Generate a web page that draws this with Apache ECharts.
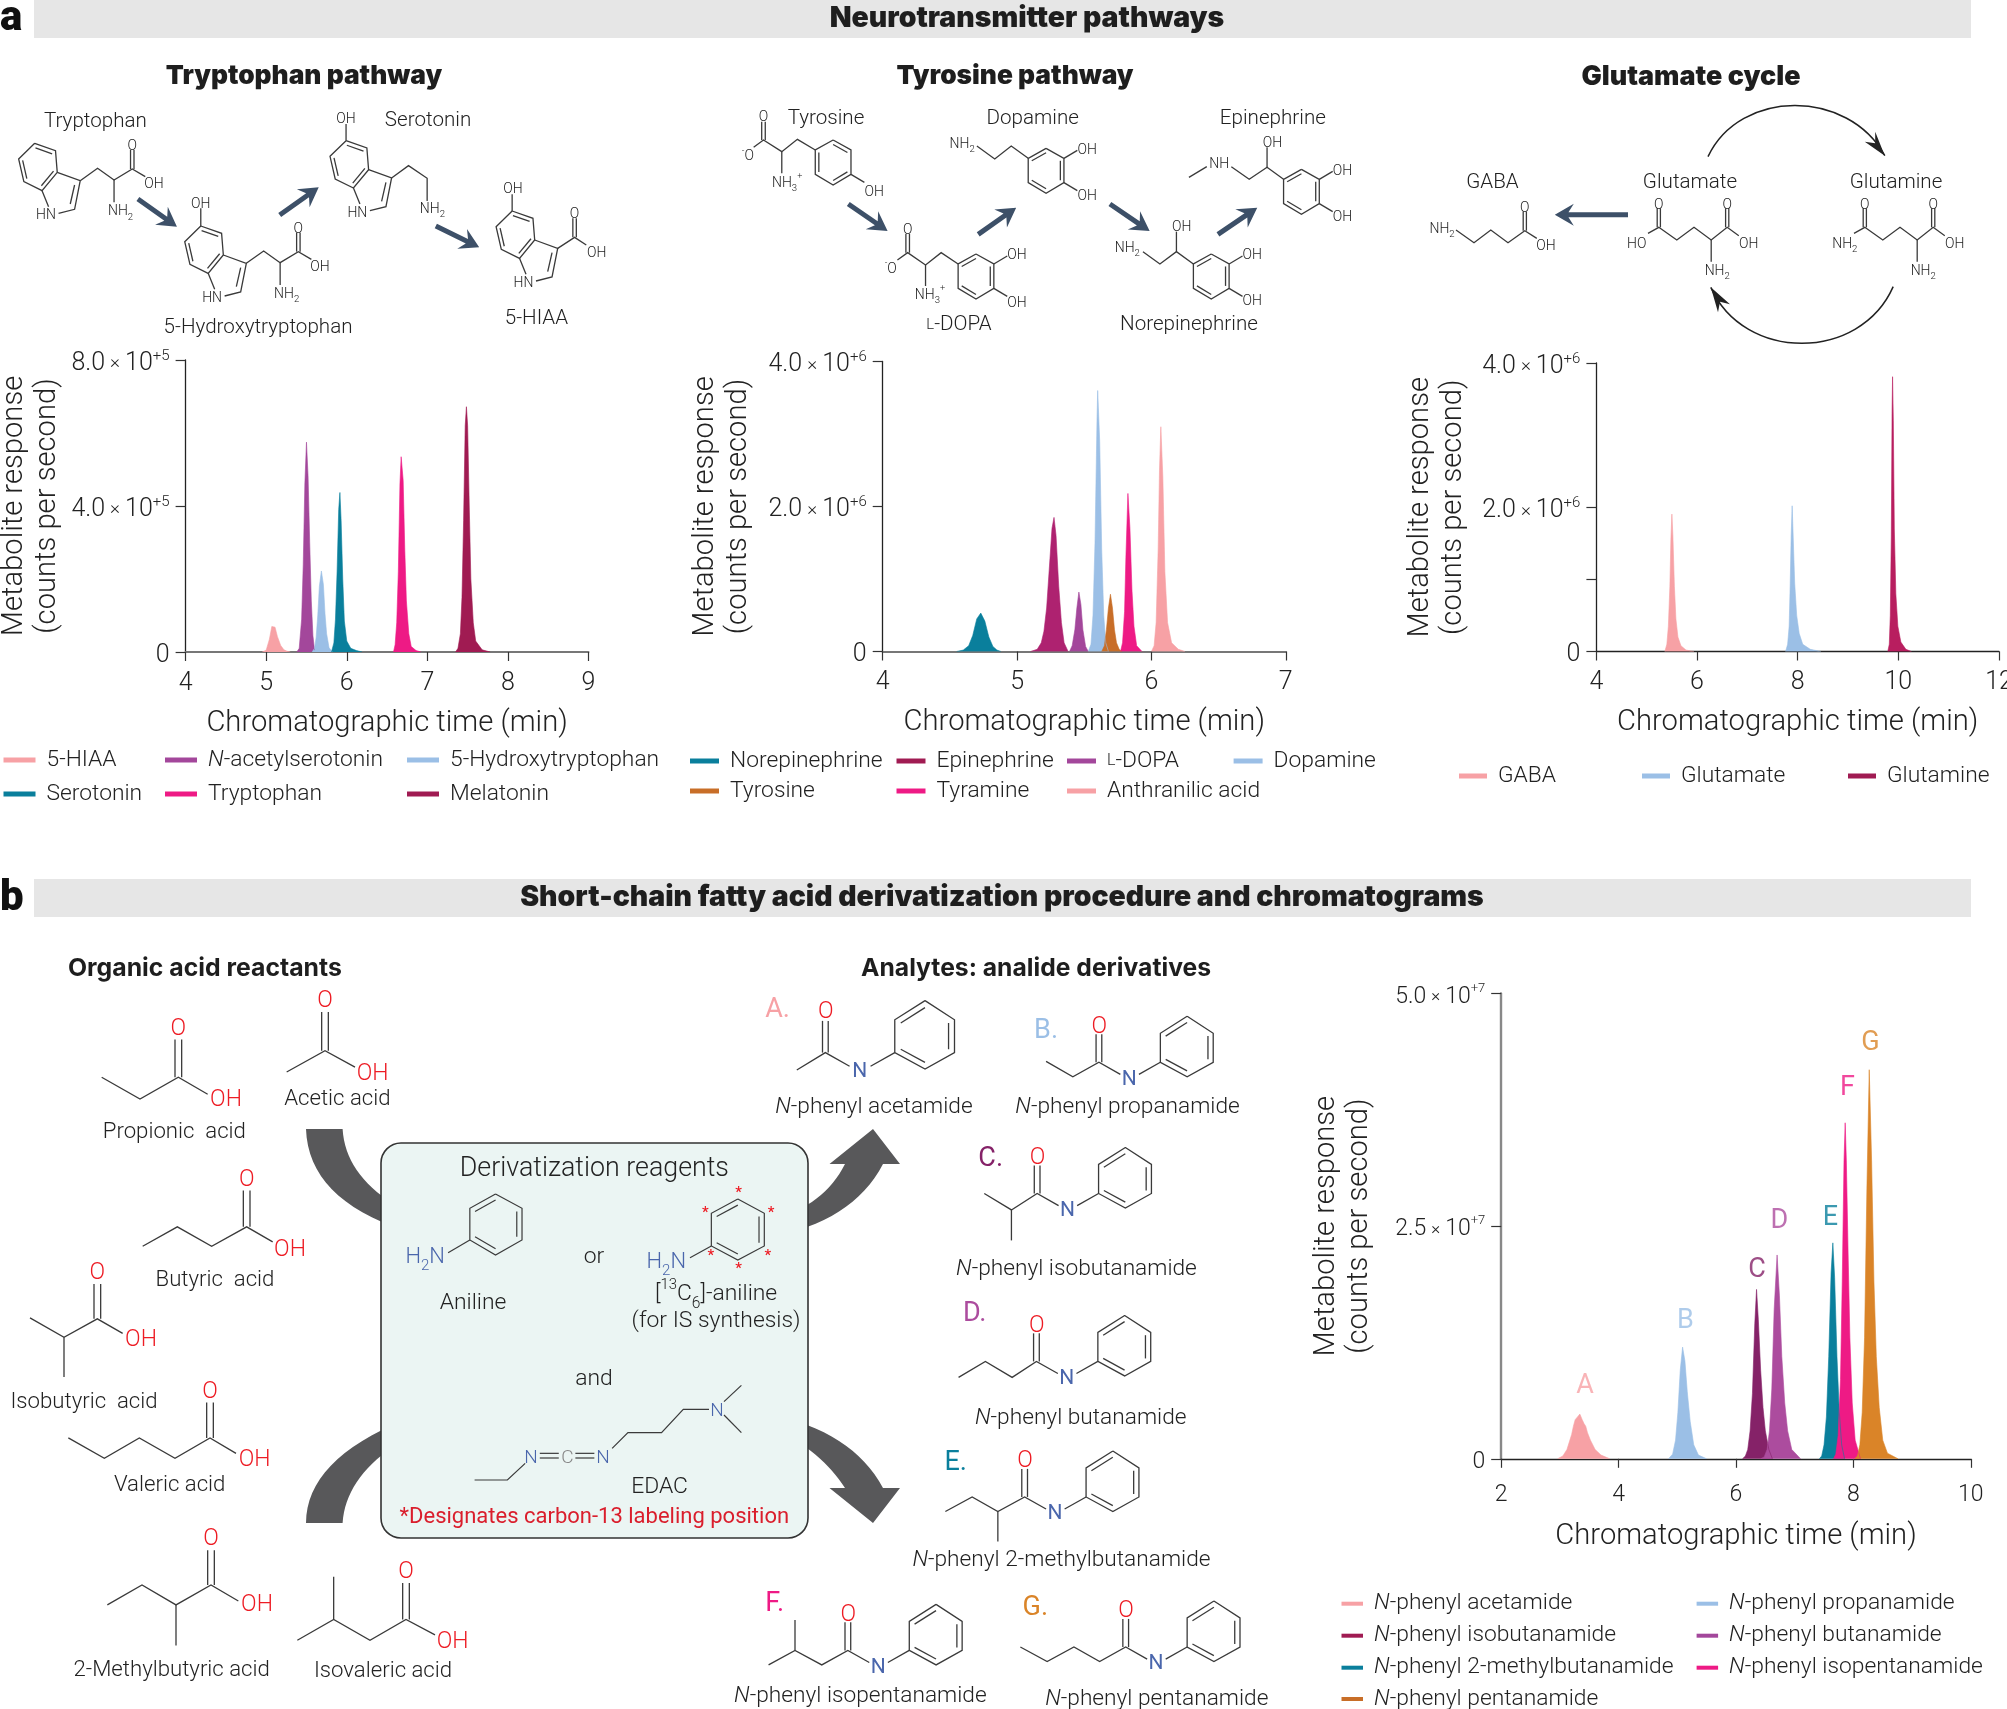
<!DOCTYPE html>
<html><head><meta charset="utf-8">
<style>html,body{margin:0;padding:0;background:#fff}#c{width:2007px;height:1709px}</style>
<script src="https://cdn.jsdelivr.net/npm/echarts@6/dist/echarts.min.js"></script>
</head><body><div id="c"></div>
<script>
// ---------- chart data (times in min; responses in axis units) ----------
const hiaaT=[4.95,5.00,5.04,5.07,5.09,5.11,5.14,5.18,5.22,5.26,5.30];
const hiaaY=[0,0.05,0.35,0.70,0.74,0.68,0.42,0.18,0.06,0.02,0];
const nacetT=[5.38,5.41,5.44,5.46,5.48,5.50,5.52,5.54,5.56,5.58,5.60];
const nacetY=[0,0.1,0.9,2.4,4.6,5.75,4.8,3.0,1.4,0.45,0.05];
const htpT=[5.57,5.60,5.62,5.64,5.66,5.685,5.71,5.73,5.75,5.78,5.82];
const htpY=[0,0.1,0.4,1.0,1.8,2.22,1.85,1.05,0.5,0.12,0];
const seroT=[5.81,5.84,5.86,5.88,5.90,5.915,5.93,5.95,5.97,6.00,6.05,6.12,6.19];
const seroY=[0,0.25,0.9,2.2,3.9,4.37,3.6,2.0,0.85,0.3,0.1,0.04,0];
const trpT=[6.58,6.60,6.62,6.64,6.66,6.675,6.70,6.72,6.74,6.77,6.80,6.86,6.92];
const trpY=[0,0.2,0.8,2.2,4.6,5.35,4.7,2.8,1.4,0.5,0.15,0.04,0];
const melT=[7.35,7.38,7.41,7.43,7.45,7.47,7.485,7.50,7.52,7.54,7.57,7.60,7.68,7.78];
const melY=[0,0.1,0.5,1.5,3.6,6.2,6.72,6.2,4.0,2.0,0.8,0.3,0.06,0];

const norT=[4.55,4.60,4.64,4.67,4.70,4.73,4.76,4.79,4.82,4.85,4.88];
const norY=[0,0.02,0.08,0.22,0.45,0.53,0.42,0.2,0.07,0.02,0];
const epiT=[5.10,5.15,5.18,5.20,5.22,5.24,5.26,5.275,5.29,5.31,5.33,5.35,5.38];
const epiY=[0,0.03,0.12,0.28,0.6,1.15,1.7,1.85,1.6,0.9,0.4,0.12,0];
const dopaT=[5.39,5.41,5.43,5.445,5.46,5.475,5.49,5.51,5.53];
const dopaY=[0,0.08,0.3,0.6,0.82,0.65,0.3,0.07,0];
const dopT=[5.53,5.55,5.565,5.58,5.595,5.60,5.615,5.63,5.645,5.66,5.68];
const dopY=[0,0.1,0.5,1.5,3.2,3.6,2.9,1.4,0.5,0.12,0];
const tyrT=[5.63,5.65,5.665,5.68,5.695,5.71,5.725,5.74,5.76,5.78];
const tyrY=[0,0.08,0.3,0.6,0.79,0.6,0.3,0.12,0.03,0];
const tymT=[5.77,5.785,5.80,5.81,5.825,5.84,5.855,5.87,5.89,5.93];
const tymY=[0,0.12,0.55,1.3,2.18,1.7,0.85,0.35,0.08,0];
const antT=[6.00,6.02,6.035,6.05,6.06,6.07,6.085,6.10,6.12,6.15,6.20,6.25];
const antY=[0,0.08,0.4,1.4,2.5,3.1,2.4,1.1,0.4,0.12,0.03,0];

const gabaT=[5.36,5.40,5.43,5.46,5.48,5.50,5.52,5.55,5.58,5.62,5.68,5.78,5.94];
const gabaY=[0,0.1,0.35,0.9,1.55,1.905,1.6,0.9,0.45,0.2,0.08,0.02,0];
const gluT=[7.76,7.80,7.83,7.85,7.87,7.89,7.91,7.94,7.98,8.03,8.10,8.25,8.46];
const gluY=[0,0.1,0.35,0.9,1.6,2.02,1.6,0.95,0.5,0.25,0.1,0.03,0];
const glnT=[9.79,9.82,9.84,9.86,9.875,9.885,9.90,9.92,9.95,9.99,10.05,10.15,10.26];
const glnY=[0,0.1,0.5,1.6,3.3,3.81,3.2,1.7,0.8,0.35,0.13,0.03,0];

const aT=[2.96,3.05,3.12,3.16,3.20,3.23,3.26,3.28,3.30,3.32,3.34,3.36,3.38,3.41,3.44,3.47,3.52,3.60,3.70,3.85];
const aY=[0,0.03,0.1,0.18,0.26,0.35,0.42,0.40,0.45,0.43,0.48,0.45,0.42,0.38,0.35,0.28,0.2,0.1,0.04,0];
const bT=[4.85,4.92,4.97,5.01,5.05,5.09,5.13,5.17,5.22,5.28,5.36,5.50];
const bY=[0,0.05,0.2,0.5,0.95,1.2,1.05,0.72,0.4,0.15,0.04,0];
const cT=[6.11,6.16,6.20,6.24,6.28,6.32,6.35,6.38,6.42,6.46,6.50,6.56,6.62];
const cY=[0,0.03,0.1,0.3,0.7,1.45,1.82,1.5,0.95,0.55,0.3,0.1,0];
const dT=[6.42,6.48,6.53,6.57,6.61,6.65,6.70,6.74,6.78,6.83,6.88,6.95,7.10];
const dY=[0,0.02,0.1,0.3,0.75,1.6,2.19,1.75,1.1,0.6,0.3,0.1,0];
const eT=[7.42,7.46,7.50,7.54,7.58,7.62,7.65,7.68,7.72,7.76,7.80,7.85];
const eY=[0,0.03,0.15,0.45,1.1,2.0,2.32,1.95,1.1,0.5,0.15,0];
const fT=[7.66,7.70,7.74,7.78,7.81,7.84,7.86,7.88,7.91,7.94,7.98,8.03,8.12];
const fY=[0,0.05,0.25,0.85,1.9,3.2,3.61,3.2,2.2,1.3,0.6,0.2,0];
const gT=[8.02,8.07,8.11,8.15,8.19,8.23,8.27,8.31,8.35,8.39,8.44,8.50,8.58,8.76];
const gY=[0,0.03,0.15,0.5,1.3,2.9,4.18,3.2,1.9,1.1,0.55,0.2,0.06,0];

const peakLabels=[['A',3.43,0.78],['B',5.14,1.48],['C',6.36,2.03],['D',6.74,2.55],['E',7.61,2.58],['F',7.90,3.98],['G',8.29,4.46]];

// ---------- colours ----------
const PINK='#F7A1A5',PURP='#A3479B',BLUE='#9BBFE6',TEAL='#0A7F9C',HOT='#EE1A85',MAR='#A01B52',ORG='#C86E28';
const SLATE='#3D5068',GREY='#58585A',RED='#ED1C24',NBLUE='#4A66AC',BOND='#3A3A3A',INK='#222222';
const FF='Roboto',HF='Inter';

function pts(t,y){return t.map((v,i)=>[v,y[i]]);}
function peak(name,t,y,color,gi,extra){
  return Object.assign({name,type:'line',xAxisIndex:gi,yAxisIndex:gi,data:pts(t,y),symbol:'none',
    showSymbol:false,silent:true,color:color,lineStyle:{width:0.6,color:color},areaStyle:{color:color,opacity:1},animation:false},extra||{});
}
const series=[
 peak('5-HIAA',hiaaT,hiaaY,PINK,0),peak('N-acetylserotonin',nacetT,nacetY,PURP,0),peak('5-Hydroxytryptophan',htpT,htpY,BLUE,0),
 peak('Serotonin',seroT,seroY,TEAL,0),peak('Tryptophan',trpT,trpY,HOT,0),peak('Melatonin',melT,melY,MAR,0),
 peak('Norepinephrine',norT,norY,TEAL,1),peak('Epinephrine',epiT,epiY,'#AE2270',1),peak('L-DOPA',dopaT,dopaY,PURP,1),
 peak('Dopamine',dopT,dopY,BLUE,1),peak('Tyrosine',tyrT,tyrY,ORG,1),peak('Tyramine',tymT,tymY,HOT,1),peak('Anthranilic acid',antT,antY,PINK,1),
 peak('GABA',gabaT,gabaY,PINK,2),peak('Glutamate',gluT,gluY,BLUE,2),peak('Glutamine',glnT,glnY,'#B81E5F',2),
 peak('N-phenyl acetamide',aT,aY,PINK,3),peak('N-phenyl propanamide',bT,bY,BLUE,3),peak('N-phenyl isobutanamide',cT,cY,'#852268',3),
 peak('N-phenyl butanamide',dT,dY,'#AC4C9E',3),peak('N-phenyl 2-methylbutanamide',eT,eY,TEAL,3),peak('N-phenyl isopentanamide',fT,fY,HOT,3),
 peak('N-phenyl pentanamide',gT,gY,'#DA8428',3)
];
const letterCol=[PINK,BLUE,'#852268','#AC4C9E',TEAL,HOT,'#DA8428'];
series.push({type:'scatter',xAxisIndex:3,yAxisIndex:3,silent:true,symbolSize:1,itemStyle:{color:'rgba(0,0,0,0)'},animation:false,
  data:peakLabels.map((p,i)=>({value:[p[1],p[2]],label:{show:true,position:'inside',formatter:p[0],color:letterCol[i],fontFamily:FF,fontWeight:400,fontSize:27}}))});

// ---------- axes ----------
function tickFmt(exp){return v=>v===0?'{n|0}':'{n|'+v.toFixed(1)+'}{x|×}{n|10}{s|+'+exp+'}';}
function axisRich(fs){return {n:{fontFamily:FF,fontWeight:300,fontSize:fs,lineHeight:30,color:INK},x:{fontFamily:FF,fontWeight:300,fontSize:fs-6,lineHeight:30,color:INK,padding:[0,5,0,5]},s:{fontFamily:FF,fontWeight:300,fontSize:fs-10,verticalAlign:'top',lineHeight:12,color:INK}};}
const grids=[{left:185.6,top:360,width:402.9,height:292},{left:882.7,top:361.5,width:403.1,height:290},{left:1596.4,top:363,width:402.6,height:288.5},{left:1501.2,top:993.4,width:469.6,height:465.4}].map(g=>Object.assign(g,{outerBoundsMode:'none',containLabel:false}));
const xCfg=[{min:4,max:9,interval:1,c:'#777',w:2,fs:25,gap:57,m:19},{min:4,max:7,interval:1,c:'#777',w:2,fs:25,gap:57,m:19},{min:4,max:12,interval:2,c:'#222',w:1.3,fs:25,gap:57,m:19},{min:2,max:10,interval:2,c:'#222',w:1.3,fs:23,gap:63,m:25}];
const yCfg=[{max:8,interval:4,exp:5,c:'#222',w:1.3,gap:156,fs:25},{max:4,interval:2,exp:6,c:'#222',w:1.3,gap:163,fs:25},{max:4,interval:2,exp:6,c:'#222',w:1.3,gap:161,fs:25,ticks:[0,1,2,4]},{max:5,interval:2.5,exp:7,c:'#888',w:2.4,gap:160,fs:23}];
const xAxis=xCfg.map((a,i)=>({type:'value',gridIndex:i,min:a.min,max:a.max,interval:a.interval,name:'Chromatographic time (min)',nameLocation:'middle',nameGap:a.gap,
  nameTextStyle:{fontFamily:FF,fontWeight:300,fontSize:29.2,color:INK},splitLine:{show:false},
  axisLine:{show:true,onZero:false,lineStyle:{color:a.c,width:a.w}},axisTick:{show:true,length:9,lineStyle:{color:'#333',width:1.2}},
  axisLabel:{show:true,margin:a.m,fontFamily:FF,fontWeight:300,fontSize:a.fs,color:INK,showMinLabel:true,showMaxLabel:true}}));
const yAxis=yCfg.map((a,i)=>({type:'value',gridIndex:i,min:0,max:a.max,interval:a.interval,name:'Metabolite response\n(counts per second)',nameLocation:'middle',nameGap:a.gap-35,nameRotate:90,
  nameTextStyle:{fontFamily:FF,fontWeight:300,fontSize:29.2,lineHeight:33,color:INK},splitLine:{show:false},
  axisLine:{show:true,onZero:false,lineStyle:{color:a.c,width:a.w}},
  axisTick:Object.assign({show:true,length:10,lineStyle:{color:'#333',width:1.2}},a.ticks?{customValues:a.ticks}:{}),
  axisLabel:{show:true,margin:16,padding:[7,0,0,0],formatter:tickFmt(a.exp),rich:axisRich(a.fs),hideOverlap:false,showMinLabel:true,showMaxLabel:true}}));

// ---------- legends (one per item, so columns line up as drawn) ----------
const LFS=22.8;
const legRich={i:{fontStyle:'italic',fontFamily:FF,fontWeight:300,fontSize:LFS,color:INK},r:{fontFamily:FF,fontWeight:300,fontSize:LFS,color:INK},s:{fontFamily:FF,fontWeight:300,fontSize:16,color:INK}};
function lg(name,x,y,sw,sh,color){
  return {show:true,data:[{name:name,itemStyle:{color:color}}],left:x,top:y-11,padding:0,itemWidth:sw,itemHeight:sh,icon:'rect',selectedMode:false,
    formatter:n=>{if(n.indexOf('N-')===0)return '{i|N}{r|'+n.slice(1)+'}';if(n==='L-DOPA')return '{s|L}{r|-DOPA}';return '{r|'+n+'}';},
    textStyle:{fontFamily:FF,fontWeight:300,fontSize:LFS,color:INK,lineHeight:26,padding:[0,0,0,6],rich:legRich}};
}
const legend=[
 lg('5-HIAA',3.5,758,32,5,PINK),lg('N-acetylserotonin',165,758,32,5,PURP),lg('5-Hydroxytryptophan',407,758,32,5,BLUE),
 lg('Serotonin',3.5,792,32,5,TEAL),lg('Tryptophan',165,792,32,5,HOT),lg('Melatonin',407,792,32,5,MAR),
 lg('Norepinephrine',690,759,29,5,TEAL),lg('Epinephrine',896.5,759,29,5,MAR),lg('L-DOPA',1067,759,29,5,PURP),lg('Dopamine',1233.6,759,29,5,BLUE),
 lg('Tyrosine',690,789,29,5,ORG),lg('Tyramine',896.5,789,29,5,HOT),lg('Anthranilic acid',1067,789,29,5,PINK),
 lg('GABA',1459,774,28,5,PINK),lg('Glutamate',1642,774,28,5,BLUE),lg('Glutamine',1848,774,28,5,MAR),
 lg('N-phenyl acetamide',1341.5,1601.7,21.5,4,PINK),lg('N-phenyl propanamide',1696.6,1601.7,21.5,4,BLUE),
 lg('N-phenyl isobutanamide',1341.5,1633.7,21.5,4,MAR),lg('N-phenyl butanamide',1696.6,1633.7,21.5,4,PURP),
 lg('N-phenyl 2-methylbutanamide',1341.5,1665.7,21.5,4,TEAL),lg('N-phenyl isopentanamide',1696.6,1665.7,21.5,4,HOT),
 lg('N-phenyl pentanamide',1341.5,1697,21.5,4,ORG)
];

// ---------- drawing helpers for the structure schemes ----------
const GR=[];
const M=(cx,cy,fx,fy)=>p=>[cx+p[0]/fx,cy+p[1]/fy];
const ID=p=>p;
function rect(x,y,w,h,fill,o){GR.push(Object.assign({type:'rect',silent:true,shape:{x,y,width:w,height:h,r:(o&&o.r)||0},style:{fill:fill,stroke:(o&&o.stroke)||null,lineWidth:(o&&o.lw)||0}},{}));}
function L(m,p,o){o=o||{};GR.push({type:'polyline',silent:true,shape:{points:p.map(m)},style:{stroke:o.c||BOND,lineWidth:o.w||1.3,fill:null}});}
function PG(pp,fill){GR.push({type:'polygon',silent:true,shape:{points:pp},style:{fill:fill,stroke:null}});}
function T(m,p,text,o){o=o||{};const q=m(p);const fs=o.fs||14;
  const base={fontFamily:o.ff||FF,fontWeight:o.fw||300,fontSize:fs,fill:o.c||INK,color:o.c||INK};
  const rich={i:Object.assign({},base,{fontStyle:'italic',verticalAlign:'middle'}),
    n:Object.assign({},base,{lineHeight:fs*1.5,verticalAlign:'middle'}),
    b:Object.assign({},base,{fontSize:fs*0.68,lineHeight:fs*0.68,verticalAlign:'bottom'}),
    t:Object.assign({},base,{fontSize:fs*0.65,lineHeight:fs*0.65,verticalAlign:'top'}),
    k:Object.assign({},base,{fontSize:fs*0.72,verticalAlign:'middle'})};
  GR.push({type:'text',silent:true,x:q[0],y:q[1]+2.5,style:{text:text,rich:rich,fontFamily:o.ff||FF,fontWeight:o.fw||300,fontSize:fs,fill:o.c||INK,
    align:o.al||'center',textAlign:o.al||'center',verticalAlign:'middle',textVerticalAlign:'middle'}});}
function ring(m,p,edges,o){const q=p.map(m);const cx=q.reduce((s,a)=>s+a[0],0)/q.length,cy=q.reduce((s,a)=>s+a[1],0)/q.length;
  L(ID,q.concat([q[0]]),o);edges.forEach(i=>{const a=q[i],b=q[(i+1)%q.length];
    const sh=v=>[v[0]+(cx-v[0])*0.2,v[1]+(cy-v[1])*0.2];L(ID,[sh(a),sh(b)],o);});}
function arrowSlate(m,a,b,col,w,hl,hw){const A=m(a),B=m(b);const dx=B[0]-A[0],dy=B[1]-A[1],d=Math.hypot(dx,dy),ux=dx/d,uy=dy/d;hl=hl||19;hw=hw||11;w=w||5;
  const nx=-uy,ny=ux;const N=[B[0]-ux*hl*0.72,B[1]-uy*hl*0.72];
  PG([[A[0]+nx*w/2,A[1]+ny*w/2],[N[0]+nx*w/2,N[1]+ny*w/2],[B[0]-ux*hl+nx*hw,B[1]-uy*hl+ny*hw],B,[B[0]-ux*hl-nx*hw,B[1]-uy*hl-ny*hw],[N[0]-nx*w/2,N[1]-ny*w/2],[A[0]-nx*w/2,A[1]-ny*w/2]],col||SLATE);}
function quad(a,c,b,n){const r=[];for(let i=0;i<=n;i++){const t=i/n,u=1-t;r.push([u*u*a[0]+2*u*t*c[0]+t*t*b[0],u*u*a[1]+2*u*t*c[1]+t*t*b[1]]);}return r;}
function dbl(m,x,y0,y1,g){L(m,[[x-g,y0],[x-g,y1]]);L(m,[[x+g,y0],[x+g,y1]]);}

// ---------- header bars ----------
rect(34,0,1937,38,'#E6E6E6');rect(34,879,1937,38,'#E6E6E6');
T(ID,[1027,16],'Neurotransmitter pathways',{fs:28.4,fw:900,ff:HF,c:'#1E1E1E'});
T(ID,[1002,895],'Short-chain fatty acid derivatization procedure and chromatograms',{fs:28.4,fw:900,ff:HF,c:'#1E1E1E'});
T(ID,[0,17],'a',{fs:42,fw:900,c:'#111',al:'left'});
T(ID,[0,897],'b',{fs:42,fw:900,c:'#111',al:'left'});
T(ID,[304,74],'Tryptophan pathway',{fs:26.3,fw:900,ff:HF,c:'#1E1E1E'});
T(ID,[1015,74],'Tyrosine pathway',{fs:26.3,fw:900,ff:HF,c:'#1E1E1E'});
T(ID,[1691,74],'Glutamate cycle',{fs:26.9,fw:900,ff:HF,c:'#1E1E1E'});
T(ID,[68,966],'Organic acid reactants',{fs:24.8,fw:700,ff:HF,al:'left',c:'#1E1E1E'});
T(ID,[861,966],'Analytes: analide derivatives',{fs:24.7,fw:700,ff:HF,al:'left',c:'#1E1E1E'});

// ---------- tryptophan pathway ----------
const m5=M(0,0,2.306,3);
function indole(ox,oy){const s=(a)=>a.map(p=>[p[0]+ox,p[1]+oy]);
  ring(m5,s([[80,430],[128,452],[132,517],[97,572],[55,545],[43,477]]),[0,2,4]);
  L(m5,s([[132,517],[185,542],[172,628],[135,640]]));L(m5,s([[97,572],[112,620]]));L(m5,s([[172,555],[162,612]]));
  T(m5,[106+ox,640+oy],'HN');}
function aminoAcid(ox,oy){const s=(a)=>a.map(p=>[p[0]+ox,p[1]+oy]);
  L(m5,s([[185,542],[225,505],[263,540],[305,507],[335,530]]));L(m5,s([[263,540],[263,607]]));
  dbl(m5,305+ox,507+oy,450+oy,4);T(m5,[305+ox,432+oy],'O');T(m5,[355+ox,547+oy],'OH');T(m5,[278+ox,628+oy],'{n|NH}{b|2}');}
indole(0,0);aminoAcid(0,0);
indole(383,248);aminoAcid(383,248);L(m5,[[463,678],[463,625]]);T(m5,[463,605],'OH');
indole(718,-8);L(m5,[[798,422],[798,372]]);T(m5,[798,350],'OH');L(m5,[[903,534],[942,497],[985,535],[985,603]]);T(m5,[997,620],'{n|NH}{b|2}');
indole(1101,203);L(m5,[[1181,633],[1181,583]]);T(m5,[1183,560],'OH');L(m5,[[1286,745],[1325,712],[1352,735]]);dbl(m5,1325,712,655,4);T(m5,[1325,637],'O');T(m5,[1376,752],'OH');
arrowSlate(m5,[318,597],[408,680]);arrowSlate(m5,[645,645],[735,562]);arrowSlate(m5,[1005,678],[1105,742]);
const nm={fs:20.6};
T(m5,[220,358],'Tryptophan',nm);T(m5,[987,355],'Serotonin',nm);T(m5,[595,975],'5-Hydroxytryptophan',nm);T(m5,[1237,950],'5-HIAA',nm);

// ---------- tyrosine pathway ----------
const m6=M(680,60,2.24,3);
function cat(ux,uy,e,two,single){const r=[[40,-30],[80,0],[80,73],[40,105],[0,73],[0,0]].map(p=>[p[0]+ux,p[1]+uy]);ring(m6,r,e);
  L(m6,[[ux+80,uy+73],[ux+110,uy+97]]);T(m6,[ux+132,uy+two],'OH');
  if(!single){L(m6,[[ux+80,uy],[ux+110,uy-24]]);T(m6,[ux+132,uy-32],'OH');}}
cat(303,270,[0,2,4],120,true);
L(m6,[[165,262],[187,240],[228,275],[263,238],[303,270]]);dbl(m6,187,240,185,4);T(m6,[187,165],'O');T(m6,[152,282],'{t|-}{n|O}');L(m6,[[228,275],[228,340]]);T(m6,[240,362],'{n|NH}{b|3}{t|+}');
cat(780,295,[1,3,5],108);
T(m6,[632,245],'{n|NH}{b|2}');L(m6,[[665,258],[705,297],[742,258],[780,295]]);
cat(1352,358,[1,3,5],107);
L(m6,[[1140,352],[1180,320]]);T(m6,[1208,305],'NH');L(m6,[[1235,320],[1275,358],[1315,322],[1352,358]]);L(m6,[[1315,322],[1315,262]]);T(m6,[1327,243],'OH');
cat(623,612,[1,3,5],110);
T(m6,[510,505],'O');dbl(m6,510,578,522,4);L(m6,[[487,600],[510,578],[550,615],[585,578],[623,612]]);T(m6,[472,620],'{t|-}{n|O}');L(m6,[[550,615],[550,678]]);T(m6,[560,698],'{n|NH}{b|3}{t|+}');
cat(1150,612,[1,3,5],106);
T(m6,[1002,558],'{n|NH}{b|2}');L(m6,[[1037,575],[1075,612],[1112,575],[1150,612]]);L(m6,[[1112,575],[1112,515]]);T(m6,[1124,495],'OH');
arrowSlate(m6,[377,432],[465,513]);arrowSlate(m6,[668,523],[753,443]);arrowSlate(m6,[963,432],[1052,513]);arrowSlate(m6,[1205,523],[1293,443]);
T(m6,[327,170],'Tyrosine',nm);T(m6,[790,170],'Dopamine',nm);T(m6,[1328,170],'Epinephrine',nm);T(m6,[625,787],'{k|L}{n|-DOPA}',nm);T(m6,[1140,787],'Norepinephrine',nm);

// ---------- glutamate cycle ----------
const m7=M(1380,60,2.5,3);
function cub(a,b,c,d){const q=[a,b,c,d].map(m7);return {type:'bezierCurve',silent:true,shape:{x1:q[0][0],y1:q[0][1],x2:q[3][0],y2:q[3][1],cpx1:q[1][0],cpy1:q[1][1],cpx2:q[2][0],cpy2:q[2][1]},style:{stroke:'#222',lineWidth:1.5,fill:null}};}
GR.push(cub([820,290],[900,86],[1170,86],[1262,287]));GR.push(cub([1283,680],[1200,906],[910,906],[827,682]));
PG([[1262,287],[1212,245],[1238,250],[1238,215]].map(m7),'#222');PG([[827,682],[875,733],[850,725],[845,757]].map(m7),'#222');
L(m7,[[190,510],[235,548],[277,510],[320,548],[362,512],[392,535]]);dbl(m7,362,512,455,4);T(m7,[362,437],'O');T(m7,[415,552],'OH');T(m7,[155,500],'{n|NH}{b|2}');
arrowSlate(m7,[620,464],[437,464],SLATE,5,19,11);
function glu(ox){L(m7,[[670+ox,520],[697+ox,502],[742+ox,540],[785+ox,502],[828+ox,540],[868+ox,502],[897+ox,527]]);dbl(m7,697+ox,502,445,4);dbl(m7,868+ox,502,445,4);
  T(m7,[697+ox,430],'O');T(m7,[868+ox,430],'O');T(m7,[922+ox,545],'OH');L(m7,[[828+ox,540],[828+ox,605]]);T(m7,[843+ox,627],'{n|NH}{b|2}');}
glu(0);T(m7,[642,545],'HO');glu(515);T(m7,[1162,545],'{n|NH}{b|2}');
T(m7,[281,362],'GABA',nm);T(m7,[775,362],'Glutamate',nm);T(m7,[1290,362],'Glutamine',nm);

// ---------- organic acids ----------
const m8=M(0,950,3,2.066);
const acid=(chain,cx,cy,oy,ohx,ohy,name,nx,ny,extra)=>{L(m8,chain);if(extra)L(m8,extra);dbl(m8,cx,cy,oy,10);
  T(m8,[cx,oy-27],'O',{fs:23,c:RED,fw:300});T(m8,[ohx,ohy],'OH',{fs:23,c:RED,fw:300});T(m8,[nx,ny],name,{fs:22.2});};
acid([[305,263],[420,308],[535,263],[623,298]],535,263,185,678,305,'Propionic  acid',523,372);
acid([[860,252],[975,208],[1065,242]],975,208,128,1118,252,'Acetic acid',1012,304);
acid([[428,612],[532,572],[635,612],[740,572],[818,603]],740,572,497,870,616,'Butyric  acid',645,678);
acid([[90,760],[192,800],[292,762],[368,792]],292,762,690,423,802,'Isobutyric  acid',252,930,[[192,800],[192,882]]);
acid([[205,1008],[313,1050],[418,1008],[525,1050],[630,1008],[708,1040]],630,1008,935,764,1049,'Valeric acid',509,1101);
acid([[322,1353],[426,1312],[528,1353],[633,1312],[715,1345]],633,1312,1240,771,1349,'2-Methylbutyric acid',515,1484,[[528,1353],[528,1437]]);
acid([[892,1426],[1001,1383],[1110,1426],[1218,1383],[1305,1415]],1218,1383,1308,1358,1425,'Isovaleric acid',1149,1486,[[1001,1383],[1001,1295]]);

// ---------- swoosh arrows + reagent box ----------
PG([[306,1129],[342.6,1129]].concat(quad([342.6,1129],[345,1168],[382,1196],14),quad([382,1222],[308,1190],[306,1129],14)),GREY);
PG(quad([382,1430],[306,1468],[306,1523],14).concat(quad([342.6,1523],[345,1485],[382,1455],14)),GREY);
PG(quad([807,1205],[832,1190],[845,1164],10).concat([[829.5,1164],[873,1129],[900,1164],[883,1164]],quad([883,1164],[860,1208],[807,1227],12)),GREY);
PG(quad([807,1425],[860,1445],[883,1488],12).concat([[900,1488],[873,1523],[829.5,1488],[845,1488]],quad([845,1488],[830,1465],[807,1448],10)),GREY);
rect(381,1143,427,395,'#EBF5F3',{r:20,stroke:'#333',lw:1.6});
const m9=M(290,1120,2.53,3);
T(m9,[770,141],'Derivatization reagents',{fs:26.8});
ring(m9,[[520,222],[587,265],[587,360],[520,405],[455,360],[455,265]],[1,3,5],{w:1.2});L(m9,[[455,360],[400,398]],{w:1.2});
T(m9,[342,405],'{n|H}{b|2}{n|N}',{fs:22,c:NBLUE});
ring(m9,[[1133,237],[1200,280],[1200,378],[1133,420],[1066,378],[1066,280]],[5,1,3],{w:1.2});L(m9,[[1066,378],[1012,413]],{w:1.2});
T(m9,[952,420],'{n|H}{b|2}{n|N}',{fs:22,c:NBLUE});
[[1135,213],[1217,272],[1209,400],[1135,440],[1065,400],[1051,272]].forEach(p=>T(m9,p,'*',{fs:15,c:RED,fw:500}));
const bx={fs:22.9};
T(m9,[463,543],'Aniline',bx);T(m9,[769,405],'or',bx);
T(m9,[1078,516],'{n|[}{t|13}{n|C}{b|6}{n|]-aniline}',bx);T(m9,[1078,596],'(for IS synthesis)',bx);T(m9,[769,771],'and',bx);T(m9,[935,1095],'EDAC',bx);
T(m9,[770,1186],'*Designates carbon-13 labeling position',{fs:22,c:'#DA1E2C',fw:400});
L(m9,[[467,1080],[550,1080],[595,1030]],{w:1.2});L(m9,[[632,1000],[680,1000]],{w:1.2});L(m9,[[632,1014],[680,1014]],{w:1.2});L(m9,[[722,1000],[770,1000]],{w:1.2});L(m9,[[722,1014],[770,1014]],{w:1.2});
T(m9,[610,1007],'N',{fs:19,c:NBLUE});T(m9,[702,1007],'C',{fs:19,c:'#888'});T(m9,[792,1007],'N',{fs:19,c:NBLUE});
L(m9,[[815,985],[855,938],[940,938],[995,868],[1060,868]],{w:1.2});T(m9,[1080,866],'N',{fs:19,c:NBLUE});L(m9,[[1098,845],[1142,796]],{w:1.2});L(m9,[[1098,885],[1142,938]],{w:1.2});

// ---------- analytes ----------
const m10=M(730,950,2.8,2.066);
function amide(cx,cy,s,chain,extra){const R=(a,b)=>[cx+a*s,cy+b*s];
  L(m10,chain.concat([[cx,cy],R(60,25)]));if(extra)L(m10,extra);L(m10,[R(112,25),R(172,0)]);
  ring(m10,[R(247,-95),R(320,-60),R(320,0),R(247,30),R(172,0),R(172,-60)],[1,3,5]);
  L(m10,[[cx-8,cy],[cx-8,cy-58*s]]);L(m10,[[cx+8,cy],[cx+8,cy-58*s]]);
  T(m10,[cx+1,cy-78*s],'O',{fs:23,c:RED,fw:300});T(m10,R(85,30),'N',{fs:21,c:NBLUE,fw:400});}
const nameStyle={fs:22.7};
const lt=c=>({fs:27,c:c,fw:400});
amide(267,212,1.13,[[187,248]]);T(m10,[133,120],'A.',lt(PINK));T(m10,[403,320],'{i|N}-phenyl acetamide',nameStyle);
amide(1033,232,1,[[885,230],[960,262]]);T(m10,[885,162],'B.',lt(BLUE));T(m10,[1113,320],'{i|N}-phenyl propanamide',nameStyle);
amide(860,503,1,[[712,503],[788,537]],[[788,537],[788,600]]);T(m10,[730,427],'C.',lt('#852268'));T(m10,[970,654],'{i|N}-phenyl isobutanamide',nameStyle);
amide(858,850,1,[[640,883],[715,850],[790,883]]);T(m10,[685,748],'D.',lt('#AC4C9E'));T(m10,[982,963],'{i|N}-phenyl butanamide',nameStyle);
amide(825,1130,1,[[603,1160],[678,1130],[750,1160]],[[750,1160],[750,1222]]);T(m10,[632,1055],'E.',lt(TEAL));T(m10,[928,1255],'{i|N}-phenyl 2-methylbutanamide',nameStyle);
amide(330,1447,1,[[108,1477],[182,1447],[257,1477]],[[182,1447],[182,1384]]);T(m10,[125,1347],'F.',lt(HOT));T(m10,[365,1537],'{i|N}-phenyl isopentanamide',nameStyle);
amide(1108,1440,1,[[813,1440],[888,1470],[963,1440],[1035,1470]]);T(m10,[855,1355],'G.',lt('#DA8428'));T(m10,[1195,1542],'{i|N}-phenyl pentanamide',nameStyle);

const chart=echarts.init(document.getElementById('c'),null,{width:2007,height:1709,renderer:'canvas'});
chart.setOption({animation:false,backgroundColor:'#fff',grid:grids,xAxis,yAxis,legend,series,graphic:{elements:GR}});
</script></body></html>
